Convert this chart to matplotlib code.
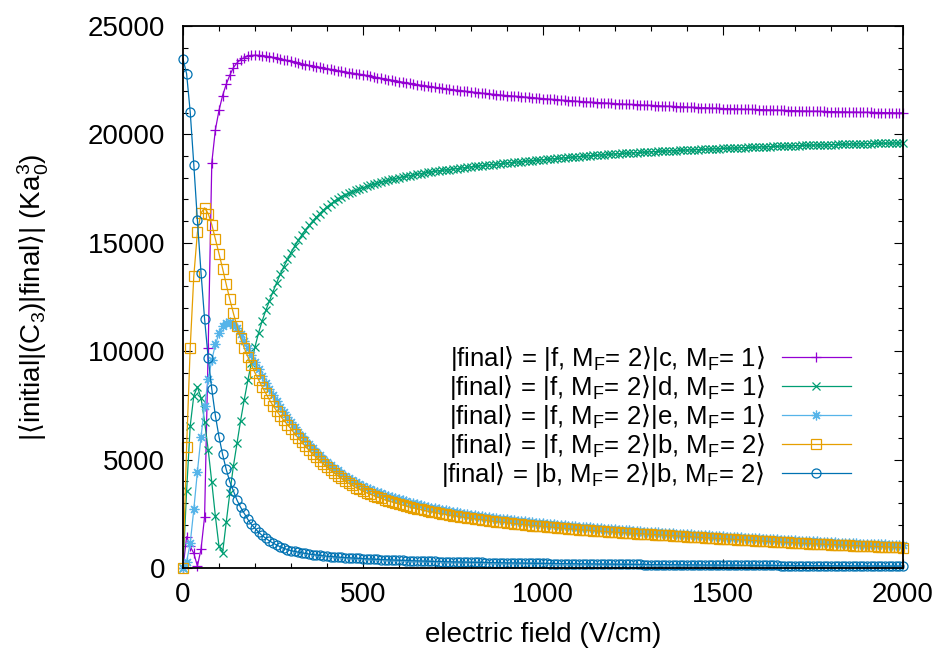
import numpy as np
import matplotlib
matplotlib.use("Agg")
import matplotlib.pyplot as plt
from matplotlib.ticker import MultipleLocator

plt.rcParams['font.family'] = ['Liberation Sans', 'DejaVu Sans']
plt.rcParams['mathtext.fontset'] = 'custom'
plt.rcParams['mathtext.rm'] = 'Liberation Sans'
plt.rcParams['mathtext.it'] = 'Liberation Sans:italic'
plt.rcParams['mathtext.sf'] = 'DejaVu Sans'

# electric field grid (V/cm), one sample every 10 V/cm
field = np.arange(0, 2001, 10)

# |f,2>|c,1>
c_state = [
    0, 1440, 1000, 680, 90, 860, 2370, 10130, 18700, 20220,
    21110, 21790, 22310, 22730, 23080, 23300, 23450, 23540, 23600, 23640,
    23650, 23645, 23630, 23610, 23585, 23555, 23520, 23485, 23450, 23410,
    23370, 23330, 23290, 23250, 23215, 23180, 23150, 23120, 23090, 23060,
    23030, 23000, 22970, 22940, 22910, 22880, 22855, 22830, 22800, 22775,
    22750, 22720, 22690, 22650, 22620, 22590, 22560, 22530, 22500, 22470,
    22440, 22410, 22380, 22350, 22330, 22300, 22270, 22250, 22220, 22200,
    22170, 22150, 22130, 22100, 22080, 22060, 22040, 22020, 22000, 21980,
    21960, 21940, 21920, 21900, 21890, 21870, 21850, 21840, 21820, 21800,
    21790, 21780, 21760, 21750, 21730, 21720, 21710, 21690, 21680, 21660,
    21650, 21640, 21620, 21610, 21600, 21580, 21570, 21560, 21550, 21530,
    21520, 21510, 21500, 21490, 21480, 21470, 21460, 21450, 21440, 21430,
    21420, 21410, 21400, 21390, 21380, 21380, 21370, 21360, 21350, 21340,
    21340, 21330, 21320, 21310, 21300, 21300, 21290, 21280, 21270, 21270,
    21260, 21250, 21250, 21240, 21230, 21230, 21220, 21210, 21210, 21200,
    21190, 21190, 21180, 21180, 21170, 21170, 21160, 21160, 21150, 21150,
    21140, 21140, 21130, 21130, 21120, 21120, 21110, 21110, 21100, 21100,
    21090, 21090, 21080, 21080, 21070, 21070, 21070, 21060, 21060, 21050,
    21050, 21050, 21040, 21040, 21040, 21030, 21030, 21030, 21020, 21020,
    21020, 21020, 21010, 21010, 21010, 21000, 21000, 21000, 20990, 20990, 20990]

# |f,2>|d,1>
d_state = [
    0, 3550, 6550, 7950, 8350, 7850, 6750, 5450, 3950, 2380,
    1000, 700, 2100, 3450, 4700, 5750, 6800, 7750, 8650, 9450,
    10200, 10850, 11400, 11880, 12320, 12750, 13150, 13550, 13900, 14230,
    14550, 14840, 15110, 15360, 15590, 15800, 16000, 16180, 16350, 16510,
    16660, 16790, 16910, 17020, 17120, 17210, 17290, 17360, 17420, 17480,
    17540, 17600, 17650, 17700, 17750, 17800, 17840, 17880, 17920, 17960,
    18000, 18040, 18070, 18100, 18130, 18160, 18190, 18220, 18250, 18270,
    18300, 18320, 18340, 18360, 18380, 18400, 18420, 18440, 18460, 18480,
    18500, 18520, 18540, 18560, 18580, 18600, 18610, 18630, 18650, 18660,
    18680, 18700, 18710, 18730, 18740, 18760, 18770, 18790, 18800, 18820,
    18830, 18845, 18860, 18875, 18890, 18905, 18920, 18935, 18950, 18965,
    18980, 18992, 19004, 19016, 19028, 19040, 19052, 19064, 19076, 19088,
    19100, 19110, 19120, 19130, 19140, 19150, 19160, 19170, 19180, 19190,
    19200, 19208, 19216, 19224, 19232, 19240, 19248, 19256, 19264, 19272,
    19280, 19287, 19294, 19301, 19308, 19315, 19322, 19329, 19336, 19343,
    19350, 19357, 19364, 19371, 19378, 19385, 19392, 19399, 19406, 19413,
    19420, 19426, 19432, 19438, 19444, 19450, 19456, 19462, 19468, 19474,
    19480, 19485, 19490, 19495, 19500, 19505, 19510, 19515, 19520, 19525,
    19530, 19534, 19539, 19543, 19548, 19552, 19557, 19561, 19566, 19570,
    19575, 19578, 19582, 19585, 19589, 19592, 19596, 19599, 19603, 19606, 19610]

# |f,2>|e,1>
e_state = [
    0, 290, 1140, 2700, 4440, 6050, 7470, 8700, 9590, 10310,
    10820, 11160, 11310, 11330, 11230, 11050, 10780, 10480, 10160, 9830,
    9500, 9170, 8850, 8540, 8240, 7960, 7690, 7430, 7180, 6950,
    6720, 6500, 6290, 6090, 5900, 5720, 5540, 5370, 5210, 5050,
    4900, 4760, 4630, 4500, 4380, 4260, 4150, 4050, 3950, 3860,
    3770, 3700, 3630, 3570, 3500, 3440, 3380, 3320, 3270, 3220,
    3170, 3120, 3070, 3020, 2980, 2940, 2900, 2860, 2820, 2790,
    2755, 2720, 2690, 2660, 2630, 2600, 2570, 2540, 2510, 2490,
    2460, 2440, 2410, 2390, 2370, 2340, 2320, 2300, 2280, 2260,
    2240, 2220, 2200, 2180, 2160, 2150, 2130, 2110, 2090, 2080,
    2060, 2040, 2030, 2010, 2000, 1980, 1970, 1950, 1940, 1920,
    1910, 1900, 1880, 1870, 1860, 1840, 1830, 1820, 1800, 1790,
    1780, 1770, 1750, 1740, 1730, 1720, 1710, 1700, 1680, 1670,
    1660, 1650, 1640, 1630, 1620, 1610, 1600, 1590, 1580, 1570,
    1560, 1550, 1540, 1530, 1520, 1510, 1500, 1490, 1480, 1470,
    1460, 1450, 1440, 1430, 1420, 1410, 1400, 1390, 1385, 1375,
    1365, 1355, 1345, 1335, 1325, 1320, 1310, 1300, 1290, 1280,
    1275, 1265, 1255, 1250, 1240, 1230, 1225, 1215, 1205, 1200,
    1190, 1185, 1175, 1170, 1160, 1155, 1145, 1140, 1130, 1125,
    1120, 1110, 1105, 1100, 1090, 1085, 1080, 1075, 1065, 1060, 1055]

# |f,2>|b,2>
fb_state = [
    0, 5560, 10160, 13460, 15480, 16380, 16610, 16350, 15840, 15180,
    14500, 13810, 13090, 12400, 11750, 11150, 10600, 10150, 9750, 9370,
    9000, 8670, 8350, 8050, 7760, 7490, 7250, 7020, 6810, 6610,
    6420, 6200, 5990, 5800, 5610, 5430, 5260, 5100, 4940, 4790,
    4650, 4510, 4380, 4260, 4140, 4020, 3910, 3810, 3710, 3630,
    3540, 3470, 3400, 3340, 3270, 3210, 3150, 3100, 3050, 3000,
    2950, 2900, 2860, 2810, 2770, 2730, 2700, 2660, 2620, 2590,
    2560, 2530, 2500, 2470, 2440, 2420, 2390, 2370, 2340, 2320,
    2290, 2270, 2250, 2230, 2210, 2180, 2160, 2140, 2120, 2110,
    2090, 2070, 2050, 2030, 2010, 2000, 1980, 1960, 1950, 1930,
    1920, 1900, 1890, 1870, 1860, 1840, 1830, 1810, 1800, 1790,
    1770, 1760, 1750, 1730, 1720, 1710, 1700, 1690, 1670, 1660,
    1650, 1640, 1630, 1620, 1610, 1600, 1590, 1580, 1570, 1560,
    1550, 1540, 1530, 1520, 1510, 1500, 1490, 1480, 1470, 1460,
    1450, 1440, 1430, 1420, 1410, 1400, 1390, 1380, 1370, 1360,
    1350, 1340, 1330, 1320, 1310, 1300, 1290, 1285, 1275, 1265,
    1255, 1245, 1235, 1225, 1215, 1210, 1200, 1190, 1180, 1170,
    1165, 1155, 1145, 1140, 1130, 1120, 1115, 1105, 1095, 1090,
    1080, 1075, 1065, 1060, 1050, 1045, 1035, 1030, 1020, 1015,
    1010, 1000, 995, 990, 980, 975, 970, 965, 955, 950, 945]

# |b,2>|b,2>
bb_state = [
    23480, 22800, 21040, 18610, 16040, 13630, 11480, 9690, 8240, 7020,
    6050, 5240, 4550, 3980, 3550, 3130, 2800, 2520, 2245, 2010,
    1830, 1650, 1500, 1370, 1250, 1150, 1060, 980, 910, 850,
    800, 765, 730, 700, 670, 645, 620, 600, 580, 560,
    545, 530, 515, 500, 490, 480, 470, 460, 450, 440,
    430, 422, 414, 406, 398, 390, 383, 376, 369, 362,
    356, 350, 344, 338, 332, 327, 322, 317, 312, 307,
    302, 298, 294, 290, 286, 282, 278, 274, 270, 267,
    264, 261, 258, 255, 252, 249, 246, 243, 240, 237,
    235, 232, 230, 227, 225, 222, 220, 218, 215, 213,
    211, 209, 207, 205, 203, 201, 199, 197, 195, 193,
    191, 189, 187, 185, 184, 182, 180, 178, 177, 175,
    173, 172, 170, 168, 167, 165, 164, 162, 161, 159,
    158, 156, 155, 153, 152, 150, 149, 148, 146, 145,
    144, 142, 141, 140, 139, 137, 136, 135, 134, 133,
    131, 130, 129, 128, 127, 126, 125, 124, 123, 122,
    121, 120, 119, 118, 117, 116, 115, 114, 113, 112,
    111, 110, 110, 109, 108, 107, 106, 105, 105, 104,
    103, 102, 102, 101, 100, 99, 99, 98, 97, 96,
    96, 95, 94, 94, 93, 92, 92, 91, 90, 90, 89]

RA = r'$\mathsf{\rangle}$'
LA = r'$\mathsf{\langle}$'
MF = r'M$_\mathrm{F}$'
labels = [
    f'|final{RA} = |f, {MF}= 2{RA}|c, {MF}= 1{RA}',
    f'|final{RA} = |f, {MF}= 2{RA}|d, {MF}= 1{RA}',
    f'|final{RA} = |f, {MF}= 2{RA}|e, {MF}= 1{RA}',
    f'|final{RA} = |f, {MF}= 2{RA}|b, {MF}= 2{RA}',
    f'|final{RA} = |b, {MF}= 2{RA}|b, {MF}= 2{RA}',
]
colors = ['#9400d3', '#009e73', '#56b4e9', '#e69f00', '#0072b2']
markers = ['+', 'x', (8, 2, 0), 's', 'o']
sizes = [7, 6, 7, 6.5, 6.5]

fig = plt.figure(figsize=(9.43, 6.56), dpi=100)
ax = fig.add_axes([183 / 943, 88 / 656, 720 / 943, 542 / 656])

series = [c_state, d_state, e_state, fb_state, bb_state]
for ys, lab, col, mk, ms in zip(series, labels, colors, markers, sizes):
    ax.plot(field, ys, color=col, lw=0.9, marker=mk, ms=ms, mew=0.9,
            mfc='none', label=lab, clip_on=False)

ax.set_xlim(0, 2000)
ax.set_ylim(0, 25000)
ax.xaxis.set_major_locator(MultipleLocator(500))
ax.xaxis.set_minor_locator(MultipleLocator(100))
ax.yaxis.set_major_locator(MultipleLocator(5000))
ax.yaxis.set_minor_locator(MultipleLocator(1000))
ax.tick_params(which='both', direction='in', top=True, right=True, width=0.8,
               labelsize=20)
ax.tick_params(which='major', length=6.5)
ax.tick_params(which='minor', length=3.5)
ax.tick_params(axis='y', pad=13)
ax.tick_params(axis='x', pad=10)
for s in ax.spines.values():
    s.set_linewidth(1.3)

ax.set_xlabel('electric field (V/cm)', fontsize=20, labelpad=10)
ax.set_ylabel(f'|{LA}initial|(C$_\\mathrm{{3}}$)|final{RA}| (Ka$_\\mathrm{{0}}^\\mathrm{{3}}$)',
              fontsize=20, labelpad=26)

leg = ax.legend(loc='center right', bbox_to_anchor=(0.928, 0.28), frameon=False,
                fontsize=18.5, markerfirst=False, handlelength=2.7,
                handletextpad=0.65, labelspacing=0.0, borderpad=0,
                borderaxespad=0)
for col in leg._legend_handle_box.get_children():
    col.align = 'right'

fig.savefig('out.png', dpi=100)
